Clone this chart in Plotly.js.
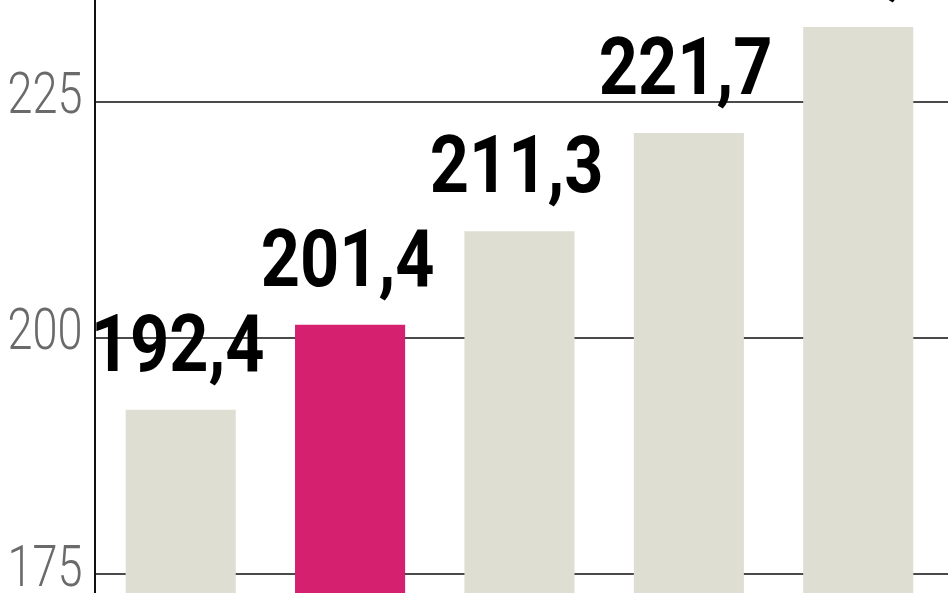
<!DOCTYPE html>
<html>
<head>
<meta charset="utf-8">
<script src="https://cdn.plot.ly/plotly-3.0.1.min.js"></script>
<style>html,body{margin:0;padding:0;background:#fff;}#chart{width:948px;height:593px;}</style>
</head>
<body>
<div id="chart"></div>
<script>
const categories = ['A', 'B', 'C', 'D', 'E'];
const values = [192.4, 201.4, 211.3, 221.7, 232.9];
const barColors = ['#deded3', '#d4206e', '#deded3', '#deded3', '#deded3'];
const yTicks = [175, 200, 225, 250];
const yTickLabels = ['175', '200', '225', '250'];

const labels = values.map(v => v.toFixed(1).replace('.', ','));

const trace = {
  type: 'bar',
  x: categories,
  y: values,
  marker: {color: barColors, line: {width: 0}},
  hoverinfo: 'none'
};

const annotations = categories.map((c, i) => ({
  x: c, y: values[i], xref: 'x', yref: 'y',
  text: labels[i], showarrow: false,
  yanchor: 'bottom', xanchor: 'center', yshift: 17, xshift: -3,
  font: {family: 'Roboto, DejaVu Sans, sans-serif', size: 80, color: '#000', weight: 'bold'}
}));

const layout = {
  width: 948, height: 593,
  margin: {l: 96, r: 0, t: 0, b: 0, pad: 0},
  paper_bgcolor: '#fff', plot_bgcolor: '#fff',
  bargap: 0.35,
  showlegend: false,
  xaxis: {range: [-0.5, 4.53], showticklabels: false, showgrid: false, zeroline: false, showline: false, fixedrange: true},
  yaxis: {
    range: [173.02, 235.76],
    tickmode: 'array', tickvals: yTicks, ticktext: yTickLabels,
    showgrid: true, gridcolor: '#4a4a4a', gridwidth: 2,
    zeroline: false,
    showline: true, linecolor: '#111', linewidth: 2,
    ticks: '', ticklabelstandoff: 0, ticklabelshift: -9, ticklabeloverflow: 'allow',
    tickfont: {family: 'Roboto, DejaVu Sans, sans-serif', size: 58, color: '#6a6a6a', weight: 300}
  },
  annotations: annotations
};

Plotly.newPlot('chart', [trace], layout, {displayModeBar: false, staticPlot: true}).then(gd => {
  // narrow the glyphs to mimic the condensed typeface of the original
  gd.querySelectorAll('g.ytick text').forEach(t => {
    t.setAttribute('textLength', 75);
    t.setAttribute('lengthAdjust', 'spacingAndGlyphs');
  });
  gd.querySelectorAll('g.annotation-text-g text').forEach(t => {
    t.setAttribute('textLength', 174);
    t.setAttribute('lengthAdjust', 'spacingAndGlyphs');
  });
});
</script>
</body>
</html>
